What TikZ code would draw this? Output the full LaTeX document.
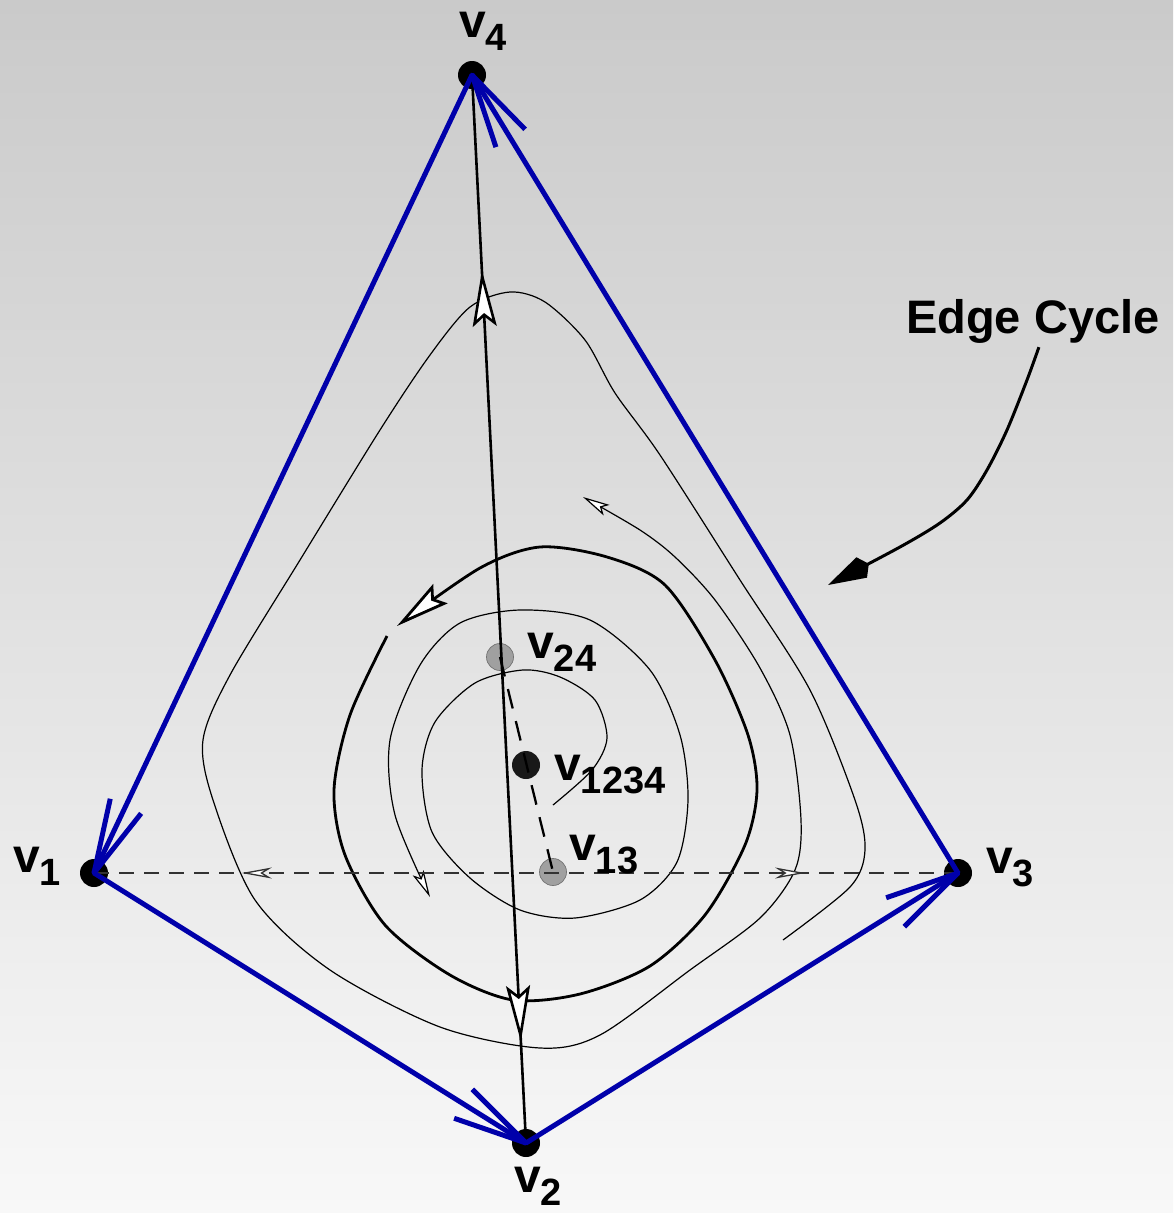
\documentclass[tikz,border=0pt]{standalone}
\usepackage{fontspec}
\setmainfont{Liberation Sans}
\usetikzlibrary{arrows.meta,calc,decorations.markings}
\definecolor{bgtop}{RGB}{202,202,202}
\definecolor{bgbot}{RGB}{248,248,248}
\definecolor{edgeblue}{RGB}{0,0,170}
\definecolor{dotgray}{RGB}{160,160,160}
\definecolor{dashgray}{RGB}{50,50,50}
\newcommand\vsub[1]{v\raisebox{-13pt}{\fontsize{38}{38}\selectfont #1}}
\tikzset{
  BigOpen/.tip={Stealth[length=56pt,width=24pt,inset=10pt,fill=white]},
  CycOpen/.tip={Stealth[length=54pt,width=24pt,inset=8pt,fill=white]},
  SmallOpen/.tip={Stealth[length=27pt,width=12pt,inset=6pt,fill=white]},
  DashOpen/.tip={Stealth[length=30pt,width=11pt,inset=9pt,fill=white]},
  EdgeKite/.tip={Kite[length=46pt,width=23pt,inset=8pt]},
  vdot/.style={circle, fill=black, minimum size=28pt, inner sep=0pt},
  cdot/.style={circle, fill=dotgray, draw=black!55, line width=0.7pt, minimum size=27pt, inner sep=0pt},
  mdot/.style={circle, fill=black!90, minimum size=28pt, inner sep=0pt},
  vlab/.style={anchor=base west, inner sep=0pt, font=\bfseries\fontsize{48}{48}\selectfont},
  bedge/.style={draw=edgeblue, line width=5pt},
  barm/.style={draw=edgeblue, line width=5pt, line join=round},
  spine/.style={line width=2.6pt},
  flow/.style={line width=1.2pt},
  cyc/.style={line width=2.8pt},
}
\begin{document}
\begin{tikzpicture}[x=1pt,y=-1pt]
\shade[top color=bgtop, bottom color=bgbot] (0,0) rectangle (1173,1213);
\useasboundingbox (0,0) rectangle (1173,1213);

% flow curves
\draw[flow, -{SmallOpen}] plot[smooth] coordinates {
 (783,940) (850,887) (865,850) (855,800) (810,690) (740,580) (660,455) (615,393)
 (585,340) (545,302) (510,292) (470,307) (430,355) (380,430) (300,560) (230,675)
 (203,740) (213,800) (255,900) (330,970) (440,1027) (540,1048) (600,1035)
 (690,970) (760,918) (795,870) (801,820) (790,735) (760,668) (715,600) (675,557)
 (640,530) (583,497)};
\draw[cyc, -{CycOpen}] plot[smooth] coordinates {
 (387,636) (350,715) (334,790) (345,855) (385,925) (450,975) (513,1000) (580,994)
 (650,966) (705,915) (745,845) (757,790) (748,735) (715,660) (665,585) (607,557)
 (540,547) (480,568) (397,626)};
\draw[flow, -{SmallOpen}] plot[smooth] coordinates {
 (553,805) (592,770) (607,738) (595,700) (560,677) (523,670) (475,683) (435,722)
 (422,770) (432,832) (470,878) (520,910) (575,918) (640,900) (677,862) (688,800)
 (680,735) (650,670) (590,620) (520,610) (460,623) (420,665) (390,740) (395,815)
 (430,897)};

% vertices
\node[vdot] (v4) at (472,75) {};
\node[vdot] (v1) at (94,873) {};
\node[vdot] (v3) at (958,873) {};
\node[vdot] (v2) at (526,1143) {};
\node[cdot] (v24) at (500,657) {};
\node[mdot] (v1234) at (526,765) {};
\node[cdot] (v13) at (553,872) {};

% dashed lines
\draw[dashgray, line width=1.3pt, dash pattern=on 15pt off 10pt,
  postaction={decorate},
  decoration={markings,
    mark=at position 0.171 with {\pgfsetdash{}{0pt}\arrowreversed{DashOpen}},
    mark=at position 0.823 with {\pgfsetdash{}{0pt}\arrow{DashOpen}}}]
  (v1.center) -- (v3.center);
\draw[line width=2.3pt, dash pattern=on 20pt off 13pt] (v24.center) -- (v13.center);

% spine v2 -- v4
\draw[spine, postaction={decorate},
  decoration={markings,
    mark=at position 0.817 with {\arrow{BigOpen}},
    mark=at position 0.095 with {\arrowreversed{BigOpen}}}]
  (v2.center) -- (v4.center);

% blue edge cycle
\draw[bedge] (v4.center) -- (v1.center);
\draw[barm] ($(v1.center)!76pt!13:(v4.center)$) -- (v1.center) -- ($(v1.center)!76pt!-13:(v4.center)$);
\draw[bedge] (v1.center) -- (v2.center);
\draw[barm] ($(v2.center)!76pt!13:(v1.center)$) -- (v2.center) -- ($(v2.center)!76pt!-13:(v1.center)$);
\draw[bedge] (v2.center) -- (v3.center);
\draw[barm] ($(v3.center)!76pt!13:(v2.center)$) -- (v3.center) -- ($(v3.center)!76pt!-13:(v2.center)$);
\draw[bedge] (v3.center) -- (v4.center);
\draw[barm] ($(v4.center)!76pt!13:(v3.center)$) -- (v4.center) -- ($(v4.center)!76pt!-13:(v3.center)$);

% labels
\node[vlab] (l4) at (459,37) {\vsub{4}};
\node[vlab] (l1) at (13,872) {\vsub{1}};
\node[vlab] (l3) at (986,873) {\vsub{3}};
\node[vlab] (l2) at (514,1192) {\vsub{2}};
\node[vlab] (l24) at (527,658) {\vsub{24}};
\node[vlab] (l1234) at (554,780) {\vsub{1234}};
\node[vlab] (l13) at (569,860) {\vsub{13}};

% Edge Cycle label and pointer
\node[anchor=base west, inner sep=0pt, font=\bfseries\fontsize{47}{47}\selectfont] (ec) at (906,333) {Edge Cycle};
\coordinate (ecStart) at ($(ec.south)+(6,4)$);
\coordinate (ecTip) at (828,585);
\draw[line width=3pt, -{EdgeKite}] plot[smooth] coordinates {
 (ecStart) (1027,380) (1007,430) (987,470) (967,500) (940,523) (900,547) (ecTip)};
\end{tikzpicture}
\end{document}
